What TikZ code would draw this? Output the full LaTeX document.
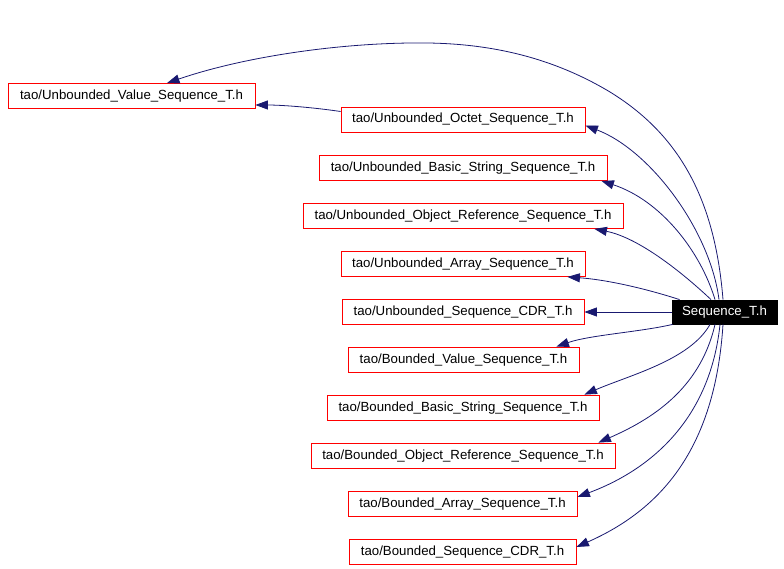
\documentclass[tikz,border=0pt]{standalone}
\usepackage{fontspec}
\setmainfont{Liberation Sans}
\usepackage{tikz}
\usetikzlibrary{calc,arrows.meta}
\definecolor{edgeblue}{RGB}{25,25,112}

\begin{document}
\begin{tikzpicture}[x=1pt, y=-1pt]
\useasboundingbox (0,0) rectangle (784,569);
\tikzstyle{every node}=[rectangle, draw=red, fill=white, line width=.8pt,
                        inner sep=0pt, minimum height=25pt, text height=9.5pt,
                        text depth=2.5pt, font=\fontsize{13.25}{15}\selectfont]
\tikzstyle{inc}=[draw=edgeblue, line width=.8pt, -{Triangle[length=12.5pt,width=9pt]}]
\node[minimum width=247pt] (UV) at (131.5,96) {tao/Unbounded\_Value\_Sequence\_T.h};
\node[minimum width=244pt] (UO) at (463,119.5) {tao/Unbounded\_Octet\_Sequence\_T.h};
\node[minimum width=288pt] (UB) at (463,168) {tao/Unbounded\_Basic\_String\_Sequence\_T.h};
\node[minimum width=320pt] (UR) at (463,216) {tao/Unbounded\_Object\_Reference\_Sequence\_T.h};
\node[minimum width=244pt] (UA) at (463,264) {tao/Unbounded\_Array\_Sequence\_T.h};
\node[minimum width=242pt] (UC) at (463,312) {tao/Unbounded\_Sequence\_CDR\_T.h};
\node[minimum width=231pt] (BV) at (463.5,359.5) {tao/Bounded\_Value\_Sequence\_T.h};
\node[minimum width=272pt] (BB) at (463,407.5) {tao/Bounded\_Basic\_String\_Sequence\_T.h};
\node[minimum width=304pt] (BR) at (463,455.5) {tao/Bounded\_Object\_Reference\_Sequence\_T.h};
\node[minimum width=229pt] (BA) at (462.5,504) {tao/Bounded\_Array\_Sequence\_T.h};
\node[minimum width=227pt] (BC) at (462.5,551.5) {tao/Bounded\_Sequence\_CDR\_T.h};
\node[draw=black, fill=black, text=white, minimum width=105pt, minimum height=24pt] (S) at (724.5,312) {Sequence\_T.h};
\draw[inc] ($(S.north)+(-1.5,0)$) .. controls (715,200) and (680,135) .. (610,92)
    .. controls (540,50) and (470,42) .. (410,43)
    .. controls (330,44) and (240,58) .. ($(UV.north)+(35.5,0)$);
\draw[inc] ($(UO.west)+(0,-8)$) .. controls (310,107) and (280,105) .. ($(UV.east)+(0,9)$);
\draw[inc] ($(S.north)+(-5.5,0)$) .. controls (710,230) and (650,150) .. ($(UO.east)+(0,6)$);
\draw[inc] ($(S.north)+(-9.5,0)$) .. controls (700,250) and (660,200) .. ($(UB.south east)+(-6,0)$);
\draw[inc] ($(S.north)+(-13.5,0)$) .. controls (685,275) and (640,238) .. ($(UR.south east)+(-29,0)$);
\draw[inc] ($(S.north west)+(8,0)$) .. controls (650,290) and (610,280) .. ($(UA.south east)+(-18,0)$);
\draw[inc] (S.west) -- (UC.east);
\draw[inc] ($(S.south west)+(1,0)$) .. controls (640,332) and (590,335) .. ($(BV.north east)+(-23,0)$);
\draw[inc] ($(S.south)+(-14.5,0)$) .. controls (690,360) and (630,375) .. ($(BB.north east)+(-15,0)$);
\draw[inc] ($(S.south)+(-9.5,0)$) .. controls (700,390) and (650,420) .. ($(BR.north east)+(-17,0)$);
\draw[inc] ($(S.south)+(-4.5,0)$) .. controls (710,420) and (650,470) .. ($(BA.east)+(0,-7)$);
\draw[inc] ($(S.south)+(-1.5,0)$) .. controls (715,450) and (660,510) .. ($(BC.east)+(0,-4.5)$);
\end{tikzpicture}
\end{document}
